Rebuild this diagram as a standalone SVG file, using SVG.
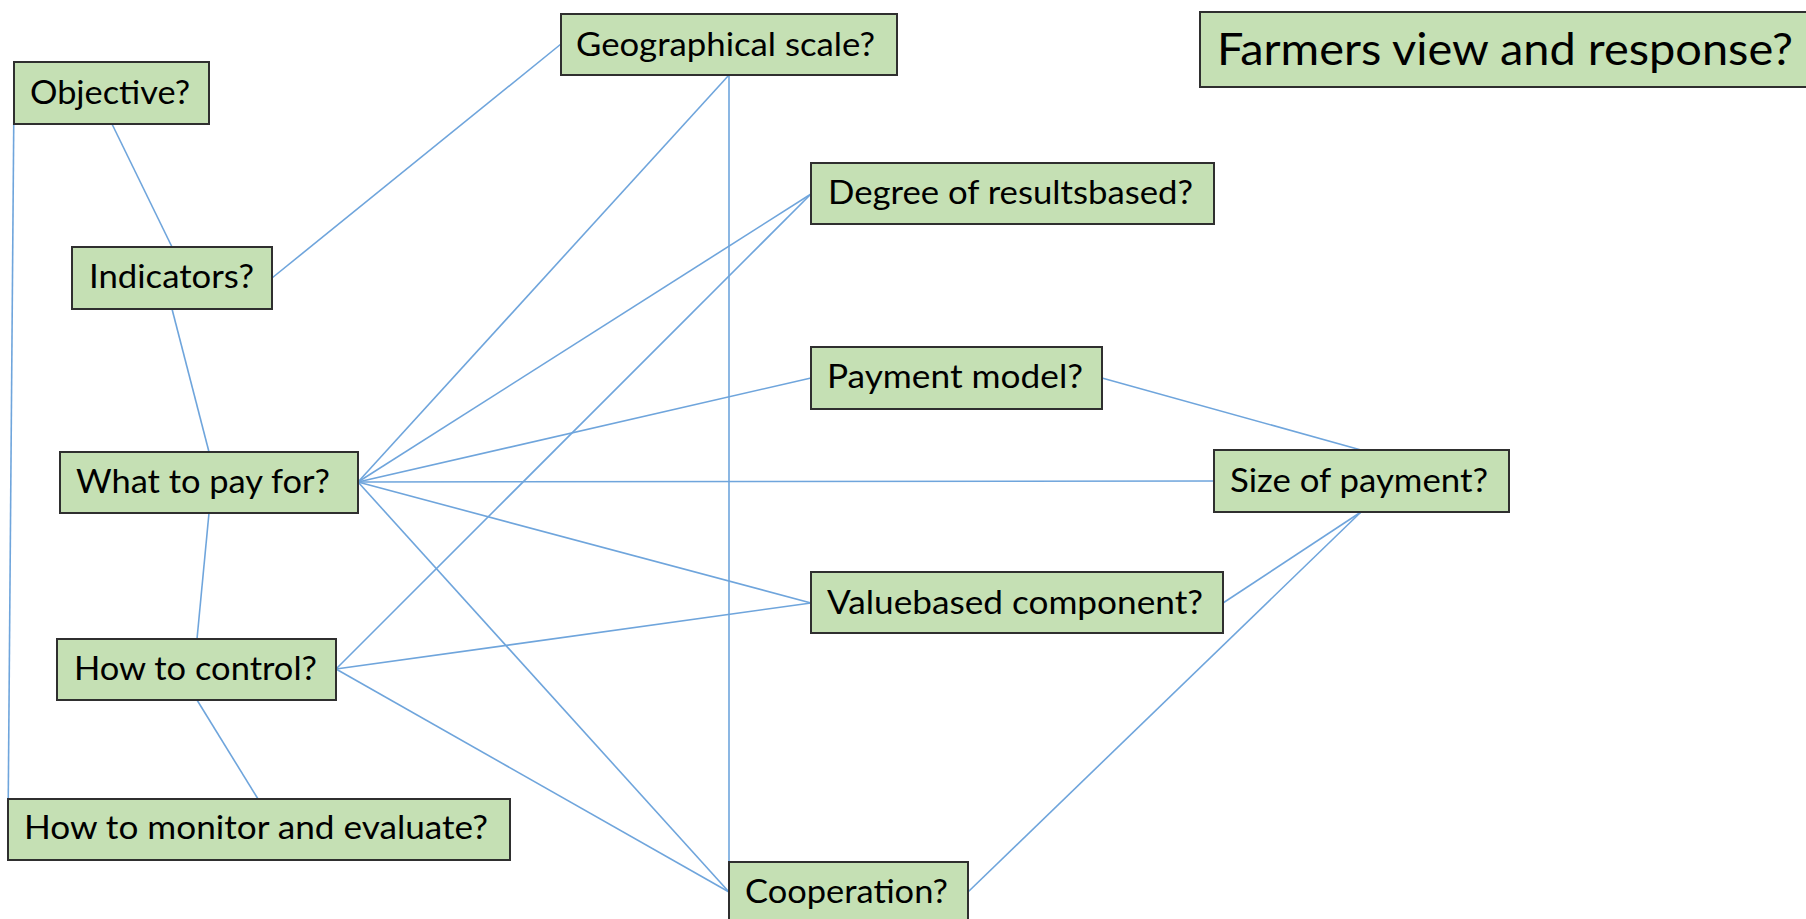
<svg xmlns="http://www.w3.org/2000/svg" width="1806" height="919" viewBox="0 0 1806 919">
<style>
.box{fill:#c5e0b4;stroke:#2f2f2f;stroke-width:2}
.lbl{font-family:Lato,"Open Sans","Liberation Sans",sans-serif;font-size:32px;fill:#000}
.big{font-size:45px}
.conn line{stroke:#6fa5dc;stroke-width:1.6;fill:none}
</style>
<rect width="1806" height="919" fill="#fff"/>
<g id="connectors" class="conn">
<line x1="112" y1="124" x2="172" y2="247"/>
<line x1="14" y1="93" x2="8" y2="829"/>
<line x1="272" y1="278" x2="561" y2="44"/>
<line x1="172" y1="309" x2="209" y2="452"/>
<line x1="209" y1="513" x2="197" y2="639"/>
<line x1="197" y1="700" x2="258" y2="799"/>
<line x1="358" y1="482" x2="729" y2="75"/>
<line x1="358" y1="482" x2="811" y2="194"/>
<line x1="358" y1="482" x2="811" y2="378"/>
<line x1="358" y1="482" x2="1214" y2="481"/>
<line x1="358" y1="482" x2="811" y2="603"/>
<line x1="358" y1="482" x2="729" y2="892"/>
<line x1="336" y1="669" x2="811" y2="194"/>
<line x1="336" y1="669" x2="811" y2="603"/>
<line x1="336" y1="669" x2="729" y2="892"/>
<line x1="729" y1="75" x2="729" y2="892"/>
<line x1="1102" y1="378" x2="1361" y2="450"/>
<line x1="1223" y1="603" x2="1361" y2="512"/>
<line x1="968" y1="892" x2="1361" y2="512"/>
</g>
<g id="objective"><rect class="box" x="14" y="62" width="195" height="62"/><text class="lbl" x="30" y="104" textLength="160" lengthAdjust="spacingAndGlyphs">Objective?</text></g>
<g id="indicators"><rect class="box" x="72" y="247" width="200" height="62"/><text class="lbl" x="89" y="288" textLength="165" lengthAdjust="spacingAndGlyphs">Indicators?</text></g>
<g id="geographical"><rect class="box" x="561" y="14" width="336" height="61"/><text class="lbl" x="576" y="56" textLength="299" lengthAdjust="spacingAndGlyphs">Geographical scale?</text></g>
<g id="degree"><rect class="box" x="811" y="163" width="403" height="61"/><text class="lbl" x="828" y="204" textLength="365" lengthAdjust="spacingAndGlyphs">Degree of resultsbased?</text></g>
<g id="farmers"><rect class="box" x="1200" y="12" width="620" height="75"/><text class="lbl big" x="1217" y="65" textLength="576" lengthAdjust="spacingAndGlyphs">Farmers view and response?</text></g>
<g id="payment-model"><rect class="box" x="811" y="347" width="291" height="62"/><text class="lbl" x="827" y="388" textLength="256" lengthAdjust="spacingAndGlyphs">Payment model?</text></g>
<g id="what-to-pay"><rect class="box" x="60" y="452" width="298" height="61"/><text class="lbl" x="76" y="493" textLength="254" lengthAdjust="spacingAndGlyphs">What to pay for?</text></g>
<g id="size-of-payment"><rect class="box" x="1214" y="450" width="295" height="62"/><text class="lbl" x="1230" y="492" textLength="258" lengthAdjust="spacingAndGlyphs">Size of payment?</text></g>
<g id="valuebased"><rect class="box" x="811" y="572" width="412" height="61"/><text class="lbl" x="827" y="614" textLength="376" lengthAdjust="spacingAndGlyphs">Valuebased component?</text></g>
<g id="how-to-control"><rect class="box" x="57" y="639" width="279" height="61"/><text class="lbl" x="74" y="680" textLength="243" lengthAdjust="spacingAndGlyphs">How to control?</text></g>
<g id="monitor"><rect class="box" x="8" y="799" width="502" height="61"/><text class="lbl" x="24" y="839" textLength="464" lengthAdjust="spacingAndGlyphs">How to monitor and evaluate?</text></g>
<g id="cooperation"><rect class="box" x="729" y="862" width="239" height="62"/><text class="lbl" x="745" y="903" textLength="203" lengthAdjust="spacingAndGlyphs">Cooperation?</text></g>
</svg>
